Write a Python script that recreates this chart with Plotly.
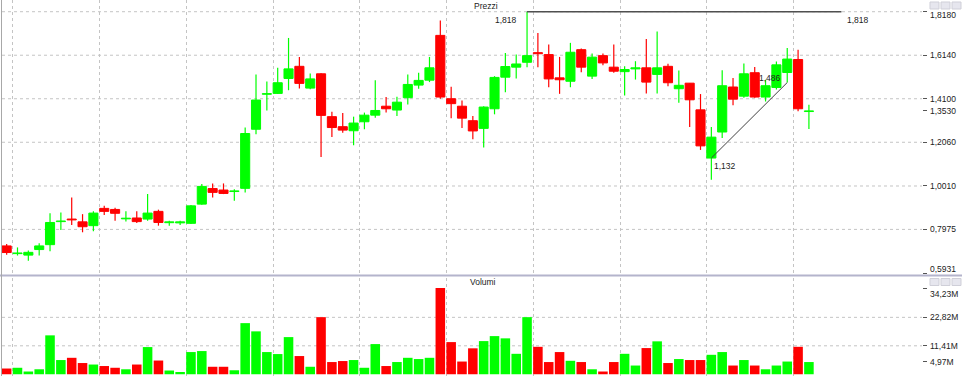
import numpy as np
import plotly.graph_objects as go

# ---------------- data ----------------
open_ = [0.720, 0.684, 0.677, 0.703, 0.726, 0.834, 0.846, 0.833, 0.815, 0.896,
         0.891, 0.847, 0.851, 0.846, 0.882, 0.829, 0.828, 0.826, 0.916, 0.989,
         0.982, 0.975, 0.990, 1.267, 1.431, 1.435, 1.505, 1.562, 1.460, 1.527,
         1.326, 1.279, 1.260, 1.302, 1.333, 1.375, 1.357, 1.415, 1.474, 1.497,
         1.707, 1.410, 1.375, 1.307, 1.271, 1.363, 1.511, 1.558, 1.581, 1.626,
         1.617, 1.508, 1.492, 1.640, 1.516, 1.612, 1.558, 1.537, 1.550, 1.555,
         1.524, 1.562, 1.457, 1.483, 1.358, 1.132, 1.254, 1.465, 1.422, 1.532,
         1.418, 1.463, 1.533, 1.594, 1.350]
high = [0.729, 0.713, 0.698, 0.732, 0.873, 0.877, 0.947, 0.869, 0.883, 0.908,
        0.899, 0.883, 0.883, 0.963, 0.890, 0.838, 0.838, 0.912, 1.010, 1.013,
        1.013, 0.986, 1.275, 1.524, 1.491, 1.555, 1.695, 1.606, 1.528, 1.530,
        1.349, 1.343, 1.326, 1.345, 1.497, 1.418, 1.419, 1.524, 1.532, 1.606,
        1.777, 1.466, 1.402, 1.329, 1.375, 1.516, 1.625, 1.617, 1.818, 1.718,
        1.664, 1.606, 1.672, 1.645, 1.622, 1.622, 1.664, 1.562, 1.586, 1.690,
        1.725, 1.574, 1.542, 1.483, 1.432, 1.277, 1.543, 1.507, 1.575, 1.559,
        1.499, 1.585, 1.648, 1.640, 1.382]
low = [0.679, 0.675, 0.651, 0.675, 0.695, 0.795, 0.818, 0.784, 0.789, 0.865,
       0.838, 0.835, 0.827, 0.838, 0.815, 0.815, 0.818, 0.823, 0.913, 0.947,
       0.963, 0.932, 0.971, 1.243, 1.355, 1.432, 1.450, 1.458, 1.454, 1.137,
       1.231, 1.251, 1.192, 1.267, 1.321, 1.345, 1.329, 1.383, 1.457, 1.488,
       1.410, 1.319, 1.273, 1.220, 1.181, 1.337, 1.441, 1.505, 1.558, 1.558,
       1.464, 1.433, 1.464, 1.534, 1.503, 1.567, 1.532, 1.425, 1.500, 1.435,
       1.435, 1.469, 1.391, 1.277, 1.170, 1.030, 1.226, 1.379, 1.415, 1.415,
       1.397, 1.453, 1.486, 1.351, 1.268]
close = [0.689, 0.687, 0.690, 0.720, 0.830, 0.837, 0.842, 0.810, 0.874, 0.882,
         0.873, 0.850, 0.834, 0.874, 0.830, 0.833, 0.833, 0.908, 0.999, 0.971,
         0.966, 0.978, 1.247, 1.404, 1.434, 1.485, 1.550, 1.482, 1.503, 1.332,
         1.275, 1.263, 1.296, 1.333, 1.355, 1.363, 1.394, 1.477, 1.496, 1.555,
         1.418, 1.387, 1.319, 1.259, 1.371, 1.510, 1.561, 1.573, 1.612, 1.621,
         1.503, 1.499, 1.628, 1.558, 1.605, 1.578, 1.539, 1.547, 1.555, 1.488,
         1.555, 1.485, 1.473, 1.405, 1.189, 1.230, 1.471, 1.408, 1.527, 1.418,
         1.471, 1.569, 1.596, 1.363, 1.353]
volume_m = [2.3, 2.6, 1.1, 2.0, 15.6, 5.7, 6.6, 4.5, 3.9, 3.3,
            2.6, 2.0, 3.9, 10.9, 5.5, 1.5, 0.9, 8.9, 9.3, 3.0,
            3.0, 1.6, 20.5, 17.2, 8.9, 8.1, 14.9, 7.3, 3.0, 22.9,
            4.9, 5.3, 5.7, 2.6, 12.1, 3.3, 4.9, 6.6, 6.1, 6.6,
            34.6, 12.9, 5.1, 10.4, 13.3, 15.3, 14.4, 8.2, 22.9, 11.0,
            4.9, 8.9, 5.4, 4.9, 2.0, 1.1, 4.9, 8.2, 3.5, 10.5,
            13.2, 4.5, 6.1, 5.7, 5.7, 7.8, 8.9, 3.5, 5.7, 3.5,
            2.0, 3.5, 5.1, 11.0, 4.9]

price_ticks = [1.8180, 1.6140, 1.4100, 1.3530, 1.2060, 1.0010, 0.7975, 0.5931]
price_tick_text = ["1,8180", "1,6140", "1,4100", "1,3530", "1,2060", "1,0010", "0,7975", "0,5931"]
price_grid = [1.8180, 1.6140, 1.4100, 1.2060, 1.0010, 0.7975]
vol_ticks = [34.23, 22.82, 11.41, 4.97]
vol_tick_text = ["34,23M", "22,82M", "11,41M", "4,97M"]
vol_grid = [22.82, 11.41]
vgrid_pos = [0.58 + 8 * k for k in range(10)]

peak_line_end = 77          # right end (bar index) of the horizontal 1.818 line
trend_x = [65, 72]          # trend line between two bars
trend_y = [1.132, 1.486]

# ---------------- build ----------------
O = np.array(open_); H = np.array(high); L = np.array(low); C = np.array(close)
V = np.array(volume_m)
idx = np.arange(len(O))
up = C >= O
GREEN = "#00ff00"
RED = "#ff0000"

fig = go.Figure()

def wick_xy(mask):
    xs, ys = [], []
    for i in idx[mask]:
        xs += [i, i, None]
        ys += [L[i], H[i], None]
    return xs, ys

for mask, col in [(up, GREEN), (~up, RED)]:
    wx, wy = wick_xy(mask)
    fig.add_trace(go.Scatter(x=wx, y=wy, mode="lines", line=dict(color=col, width=1.2),
                             hoverinfo="skip", showlegend=False, xaxis="x", yaxis="y"))
    fig.add_trace(go.Bar(x=idx[mask], y=np.abs(C - O)[mask], base=np.minimum(O, C)[mask],
                         width=0.84, marker=dict(color=col, line=dict(color=col, width=1)),
                         showlegend=False, xaxis="x", yaxis="y"))
    fig.add_trace(go.Bar(x=idx[mask], y=V[mask], width=0.88,
                         marker=dict(color=col, line=dict(width=0)),
                         showlegend=False, xaxis="x2", yaxis="y2"))

# horizontal line at the peak high
peak_i = int(np.argmax(H))
peak_v = float(H[peak_i])
fig.add_trace(go.Scatter(x=[peak_i, peak_line_end], y=[peak_v, peak_v], mode="lines",
                         line=dict(color="#505050", width=1.5), hoverinfo="skip",
                         showlegend=False, xaxis="x", yaxis="y"))
# trend line
fig.add_trace(go.Scatter(x=trend_x, y=trend_y, mode="lines",
                         line=dict(color="#404040", width=1), hoverinfo="skip",
                         showlegend=False, xaxis="x", yaxis="y"))

W, Hpx = 962, 376
xdom = [2 / W, 922 / W]
y1dom = [1 - 273 / Hpx, 1]
y2dom = [0, 1 - 278 / Hpx]

shapes = []
for g in price_grid:
    shapes.append(dict(type="line", xref="x domain", yref="y", x0=0, x1=1, y0=g, y1=g,
                       line=dict(color="#c4c4c4", width=1, dash="dot"), layer="below"))
for g in vol_grid:
    shapes.append(dict(type="line", xref="x2 domain", yref="y2", x0=0, x1=1, y0=g, y1=g,
                       line=dict(color="#c4c4c4", width=1, dash="dot"), layer="below"))
# panel separator and left border
shapes.append(dict(type="line", xref="paper", yref="paper", x0=0, x1=1,
                   y0=1 - 275.5 / Hpx, y1=1 - 275.5 / Hpx, line=dict(color="#b4b4cc", width=2)))
shapes.append(dict(type="line", xref="paper", yref="paper", x0=1.5 / W, x1=1.5 / W,
                   y0=0, y1=1, line=dict(color="#a8a8a8", width=1)))
# small window buttons
for top in [2, 278.5]:
    for x0 in [930, 941, 952]:
        shapes.append(dict(type="rect", xref="paper", yref="paper",
                           x0=x0 / W, x1=(x0 + 9) / W, y0=1 - (top + 7) / Hpx, y1=1 - top / Hpx,
                           fillcolor="#e6e6ee", line=dict(color="#cfcfd8", width=1)))

FONT = "Liberation Sans, Arial, sans-serif"
FS = 8.5
ann = []
shift_p = {1.8180: -3, 0.5931: 4}
for v, t in zip(price_ticks, price_tick_text):
    ann.append(dict(x=928 / W, xref="paper", y=v, yref="y", text=t, showarrow=False,
                    xanchor="left", yanchor="middle", yshift=shift_p.get(v, 0),
                    font=dict(size=FS, color="#222")))
shift_v = {34.23: -5}
for v, t in zip(vol_ticks, vol_tick_text):
    ann.append(dict(x=928 / W, xref="paper", y=v, yref="y2", text=t, showarrow=False,
                    xanchor="left", yanchor="middle", yshift=shift_v.get(v, 0),
                    font=dict(size=FS, color="#222")))
ann.append(dict(x=486 / W, xref="paper", y=1 - 6 / Hpx, yref="paper", text="Prezzi",
                showarrow=False, xanchor="center", yanchor="middle", font=dict(size=FS, color="#222")))
ann.append(dict(x=483 / W, xref="paper", y=1 - 282 / Hpx, yref="paper", text="Volumi",
                showarrow=False, xanchor="center", yanchor="middle", font=dict(size=FS, color="#222")))
fmt = lambda v: f"{v:.3f}".replace(".", ",")
ann.append(dict(x=peak_i, y=peak_v, xref="x", yref="y", text=fmt(peak_v), showarrow=False,
                xanchor="right", yanchor="middle", xshift=-8, yshift=-8, font=dict(size=FS, color="#222")))
ann.append(dict(x=peak_line_end, y=peak_v, xref="x", yref="y", text=fmt(peak_v), showarrow=False,
                xanchor="left", yanchor="middle", xshift=4, yshift=-8, font=dict(size=FS, color="#222")))
ann.append(dict(x=trend_x[0], y=trend_y[0], xref="x", yref="y", text=fmt(trend_y[0]), showarrow=False,
                xanchor="left", yanchor="middle", xshift=1, yshift=-8, font=dict(size=FS, color="#222")))
ann.append(dict(x=trend_x[1], y=trend_y[1], xref="x", yref="y", text=fmt(trend_y[1]), showarrow=False,
                xanchor="right", yanchor="middle", xshift=-4, yshift=5, font=dict(size=FS, color="#222")))

xcommon = dict(domain=xdom, range=[-0.43, 84.43], tickvals=vgrid_pos, showticklabels=False,
               ticks="", showgrid=True, gridcolor="#c4c4c4", gridwidth=1, griddash="dot",
               zeroline=False, showline=False, fixedrange=True)
fig.update_layout(
    width=W, height=Hpx, margin=dict(l=0, r=0, t=0, b=0),
    paper_bgcolor="white", plot_bgcolor="white",
    font=dict(family=FONT, size=FS, color="#222"),
    barmode="overlay", showlegend=False,
    xaxis=dict(anchor="y", **xcommon),
    xaxis2=dict(anchor="y2", matches="x", **xcommon),
    yaxis=dict(domain=y1dom, range=[0.5931, 1.8729], side="right", tickvals=price_ticks,
               ticks="outside", ticklen=4, tickcolor="#555", showticklabels=False,
               showgrid=False, zeroline=False, showline=False),
    yaxis2=dict(domain=y2dom, range=[-0.7, 38.6], side="right", tickvals=vol_ticks,
                ticks="outside", ticklen=4, tickcolor="#555", showticklabels=False,
                showgrid=False, zeroline=False, showline=False),
    shapes=shapes, annotations=ann,
)

fig.write_html("out.html", config={"displayModeBar": False},
               post_script="document.body.style.margin='0';document.body.style.overflow='hidden';")
